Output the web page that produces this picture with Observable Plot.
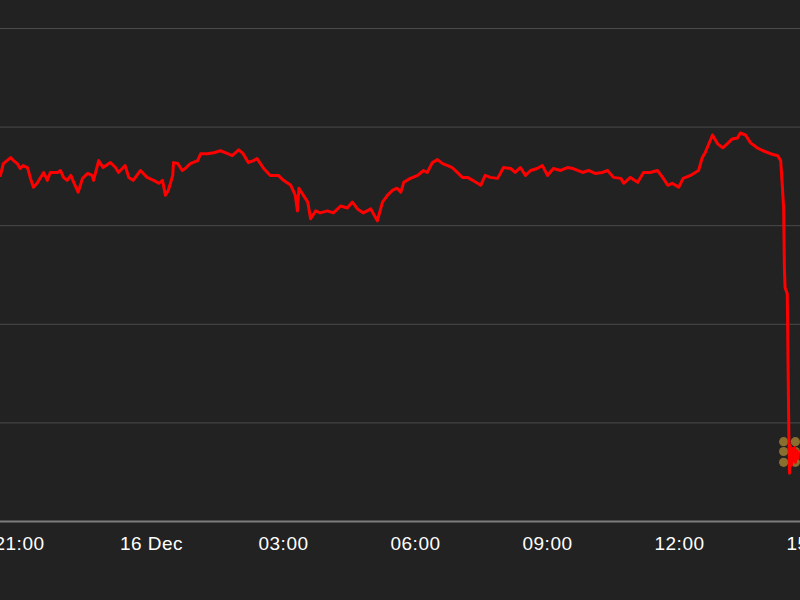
<!DOCTYPE html>
<html><head><meta charset="utf-8">
<script src="https://cdn.jsdelivr.net/npm/d3@7"></script>
<script src="https://cdn.jsdelivr.net/npm/@observablehq/plot@0.6"></script>
<style>
html,body{margin:0;padding:0;background:#222222;overflow:hidden;}
#wrap{width:800px;height:600px;overflow:hidden;position:relative;background:#222222;}
#wrap text{letter-spacing:0.5px;}
</style></head><body><div id="wrap"></div>
<script>
// time stamps "day HH:MM" in December 2014 (UTC)
const times = [
"15 20:34","15 20:38","15 20:48","15 20:52","15 20:57","15 21:01","15 21:05","15 21:11","15 21:15","15 21:19",
"15 21:24","15 21:33","15 21:38","15 21:42","15 21:52","15 21:56","15 22:00","15 22:05","15 22:10","15 22:14",
"15 22:20","15 22:26","15 22:33","15 22:39","15 22:41","15 22:48","15 22:54","15 23:04","15 23:11","15 23:15",
"15 23:24","15 23:29","15 23:35","15 23:45","15 23:54",
"16 00:03","16 00:10","16 00:15","16 00:19","16 00:23","16 00:29","16 00:30","16 00:36","16 00:42","16 00:46",
"16 00:53","16 01:03","16 01:07","16 01:16","16 01:25","16 01:34","16 01:44","16 01:50","16 01:59","16 02:05",
"16 02:12","16 02:19","16 02:24","16 02:33","16 02:42","16 02:53","16 03:00","16 03:10","16 03:16","16 03:19",
"16 03:21","16 03:27","16 03:33","16 03:37","16 03:44","16 03:50","16 04:00","16 04:08","16 04:18","16 04:27",
"16 04:34","16 04:41","16 04:49","16 04:59","16 05:08","16 05:15","16 05:22","16 05:29","16 05:35","16 05:40",
"16 05:44","16 05:53","16 06:03","16 06:11","16 06:16","16 06:23","16 06:30","16 06:37","16 06:44","16 06:50",
"16 06:57","16 07:04","16 07:11","16 07:18","16 07:29","16 07:35","16 07:42","16 07:52","16 08:00","16 08:10",
"16 08:16","16 08:23","16 08:30","16 08:37","16 08:46","16 08:53","16 09:00","16 09:08","16 09:18","16 09:27",
"16 09:35","16 09:48","16 09:56","16 10:05","16 10:15","16 10:22","16 10:30","16 10:40","16 10:44","16 10:53",
"16 11:03","16 11:11","16 11:20","16 11:30","16 11:38","16 11:44","16 11:50","16 11:59","16 12:05","16 12:15",
"16 12:26","16 12:31","16 12:35","16 12:45","16 12:52","16 12:59","16 13:05","16 13:12","16 13:19","16 13:23",
"16 13:30","16 13:37","16 13:46","16 13:54","16 14:04","16 14:14","16 14:18","16 14:20","16 14:22","16 14:23",
"16 14:24","16 14:27","16 14:29","16 14:30","16 14:31","16 14:33","16 14:34","16 14:35","16 14:37","16 14:38",
"16 14:40","16 14:41","16 14:42"
];
const values = [
1851,1863,1869,1866,1863,1858,1861,1859,1848,1839,
1843,1854,1846,1854,1854,1856,1849,1846,1851,1844,
1834,1848,1853,1851,1846,1866,1859,1864,1859,1854,
1861,1849,1846,1856,1849,
1846,1843,1846,1831,1836,1851,1864,1863,1856,1858,
1863,1866,1873,1873,1874,1876,1873,1871,1877,1873,
1864,1866,1868,1858,1851,1851,1846,1841,1831,1815,
1838,1831,1824,1807,1815,1813,1815,1813,1820,1818,
1824,1817,1813,1817,1805,1824,1831,1836,1838,1834,
1844,1848,1851,1856,1854,1864,1867,1863,1861,1859,
1854,1849,1849,1846,1841,1851,1849,1848,1859,1858,
1854,1859,1851,1856,1858,1861,1851,1858,1856,1859,
1858,1854,1856,1853,1854,1856,1849,1848,1843,1849,
1844,1854,1854,1856,1848,1841,1843,1839,1848,1851,
1856,1869,1874,1892,1883,1879,1883,1888,1889,1894,
1892,1884,1879,1876,1873,1871,1866,1843,1818,1758,
1737,1731,1595,1549,1577,1557,1574,1562,1575,1560,
1572,1564,1570
];
// highlighted markers near the end
const markerTimes = ["16 14:22","16 14:22","16 14:22","16 14:38","16 14:38","16 14:38"];
const markerValues = [1581,1571,1560,1581,1571,1560];
// gridlines and x ticks
const gridValues = [1600,1700,1800,1900,2000];
const baseValue = 1500;
const tickTimes = ["15 21:00","16 00:00","16 03:00","16 06:00","16 09:00","16 12:00","16 15:00"];

const parseT = s => {
  const [d, hm] = s.split(" ");
  const [h, m] = hm.split(":").map(Number);
  return new Date(Date.UTC(2014, 11, +d, h, m));
};
const series = times.map((t, i) => ({date: parseT(t), value: values[i]}));
const markers = markerTimes.map((t, i) => ({date: parseT(t), value: markerValues[i]}));
const ticks = tickTimes.map(parseT);
const fmtDay = d3.utcFormat("%-d %b"), fmtHM = d3.utcFormat("%H:%M");
const tickFormat = d => (d.getUTCHours() === 0 && d.getUTCMinutes() === 0) ? fmtDay(d) : fmtHM(d);

const chart = Plot.plot({
  width: 800, height: 600,
  marginTop: 28, marginBottom: 79, marginLeft: 0, marginRight: 0,
  style: {background: "#222222", color: "#ffffff", fontFamily: "'Liberation Sans', Arial, Helvetica, sans-serif", fontSize: "19px"},
  x: {type: "utc", domain: [ticks[0], ticks[ticks.length - 1]], range: [19, 811], label: null},
  y: {domain: [baseValue, 2000], axis: null},
  marks: [
    Plot.ruleY(gridValues, {stroke: "#4b4b4b", strokeWidth: 1}),
    Plot.ruleY([baseValue], {stroke: "#7c7c7c", strokeWidth: 2}),
    Plot.axisX(ticks, {tickSize: 0, tickPadding: 15, tickFormat, fill: "#ffffff", label: null, fontSize: 19}),
    Plot.dot(markers, {x: "date", y: "value", r: 4.6, fill: "#8a6e30", stroke: "none"}),
    Plot.line(series, {x: "date", y: "value", stroke: "#ff0000", strokeWidth: 3, strokeLinejoin: "round", strokeLinecap: "round"})
  ]
});
document.getElementById("wrap").appendChild(chart);
</script>
</body></html>
